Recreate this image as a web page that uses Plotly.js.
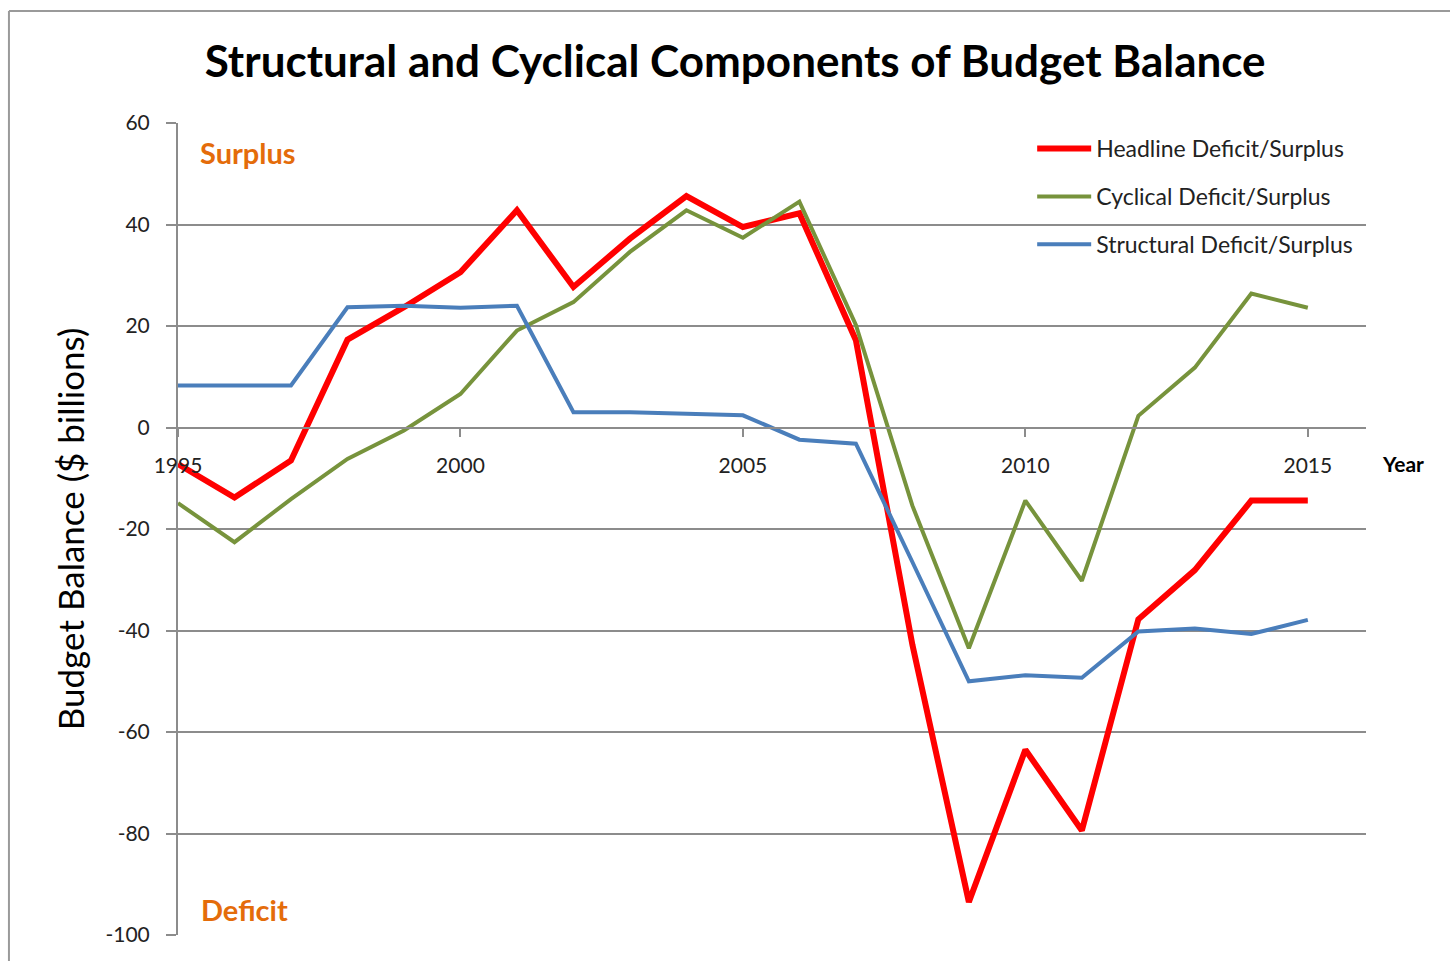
<!DOCTYPE html>
<html>
<head>
<meta charset="utf-8">
<script src="https://cdn.plot.ly/plotly-3.0.1.min.js"></script>
<style>html,body{margin:0;padding:0;background:#fff;}#chart{width:1450px;height:961px;}</style>
</head>
<body>
<div id="chart"></div>
<script>
var years = [1995,1996,1997,1998,1999,2000,2001,2002,2003,2004,2005,2006,2007,2008,2009,2010,2011,2012,2013,2014,2015];
var headline = [-7.2,-13.8,-6.5,17.3,23.7,30.6,42.8,27.7,37.2,45.6,39.5,42.2,17.2,-42.8,-93.5,-63.5,-79.4,-37.8,-28.1,-14.4,-14.4];
var cyclical = [-14.9,-22.6,-14.1,-6.2,-0.6,6.6,19.1,24.7,34.6,42.8,37.4,44.5,20.2,-15.4,-43.5,-14.4,-30.2,2.3,11.8,26.4,23.6];
var structural = [8.3,8.3,8.3,23.7,24.0,23.6,24.0,3.0,3.0,2.7,2.4,-2.4,-3.2,-26.5,-50.0,-48.8,-49.3,-40.2,-39.6,-40.7,-37.9];
var seriesNames = ["Headline Deficit/Surplus","Cyclical Deficit/Surplus","Structural Deficit/Surplus"];
var xTickVals = [1995,2000,2005,2010,2015];
var xTickText = ["1995","2000","2005","2010","2015"];
var yTickVals = [60,40,20,0,-20,-40,-60,-80,-100];
var yTickText = ["60","40","20","0","-20","-40","-60","-80","-100"];

var FONT = "Lato, 'Open Sans', sans-serif";
var GRID = "#8c8c8c";

var traces = [
  {x: years, y: headline, name: seriesNames[0], legendgroup: "a", type: "scatter", mode: "lines",
   line: {color: "#ff0000", width: 6}},
  {x: years, y: cyclical, name: seriesNames[1], legendgroup: "b", type: "scatter", mode: "lines",
   line: {color: "#77933c", width: 4}},
  {x: years, y: structural, name: seriesNames[2], legendgroup: "c", type: "scatter", mode: "lines",
   line: {color: "#4a7ebb", width: 4}}
];

var layout = {
  width: 1450, height: 961,
  margin: {l: 178, r: 84, t: 123, b: 26},
  paper_bgcolor: "#ffffff", plot_bgcolor: "#ffffff",
  font: {family: FONT, color: "#222"},
  title: {text: "<b>Structural and Cyclical Components of Budget Balance</b>",
          font: {family: FONT, size: 44, color: "#000"},
          x: 0.507, xref: "container", xanchor: "center",
          y: 1 - 62/961, yref: "container", yanchor: "middle"},
  xaxis: {
    type: "linear", range: [1995, 2016.03],
    tickvals: xTickVals, ticktext: xTickText,
    anchor: "free", position: 0.625,
    showline: true, linecolor: GRID, linewidth: 2,
    ticks: "outside", ticklen: 8, tickwidth: 2, tickcolor: GRID,
    ticklabelstandoff: 11,
    showgrid: false, zeroline: false,
    tickfont: {family: FONT, size: 21, color: "#222"}
  },
  yaxis: {
    range: [-100, 60], tickvals: yTickVals, ticktext: yTickText,
    showline: true, linecolor: GRID, linewidth: 2,
    ticks: "outside", ticklen: 10, tickwidth: 2, tickcolor: GRID,
    ticklabelstandoff: 12,
    showgrid: true, gridcolor: GRID, gridwidth: 2,
    zeroline: false,
    tickfont: {family: FONT, size: 21, color: "#222"},
    title: {text: "Budget Balance ($ billions)", font: {family: FONT, size: 35, color: "#000"}, standoff: 10}
  },
  showlegend: true,
  legend: {
    x: 0.719, xanchor: "left", y: 0.995, yanchor: "top",
    bgcolor: "rgba(255,255,255,0)", borderwidth: 0,
    font: {family: FONT, size: 23, color: "#222"},
    traceorder: "grouped", tracegroupgap: 15,
    itemwidth: 54
  },
  annotations: [
    {text: "<b>Surplus</b>", xref: "paper", yref: "paper", x: 0.0168, y: 0.964,
     xanchor: "left", yanchor: "middle", showarrow: false,
     font: {family: FONT, size: 29, color: "#e46c0a"}},
    {text: "<b>Deficit</b>", xref: "paper", yref: "paper", x: 0.0177, y: 0.032,
     xanchor: "left", yanchor: "middle", showarrow: false,
     font: {family: FONT, size: 29, color: "#e46c0a"}},
    {text: "<b>Year</b>", xref: "paper", yref: "paper", x: 1.031, y: 0.581,
     xanchor: "center", yanchor: "middle", showarrow: false,
     font: {family: FONT, size: 21, color: "#000"}}
  ],
  shapes: [
    {type: "line", xref: "paper", yref: "paper", x0: -0.1423, x1: 1.08, y0: 1.138, y1: 1.138,
     line: {color: "#9a9a9a", width: 2}},
    {type: "line", xref: "paper", yref: "paper", x0: -0.1423, x1: -0.1423, y0: 1.138, y1: -0.05,
     line: {color: "#9a9a9a", width: 2}}
  ]
};

Plotly.newPlot("chart", traces, layout, {displayModeBar: false, staticPlot: true});
</script>
</body>
</html>
